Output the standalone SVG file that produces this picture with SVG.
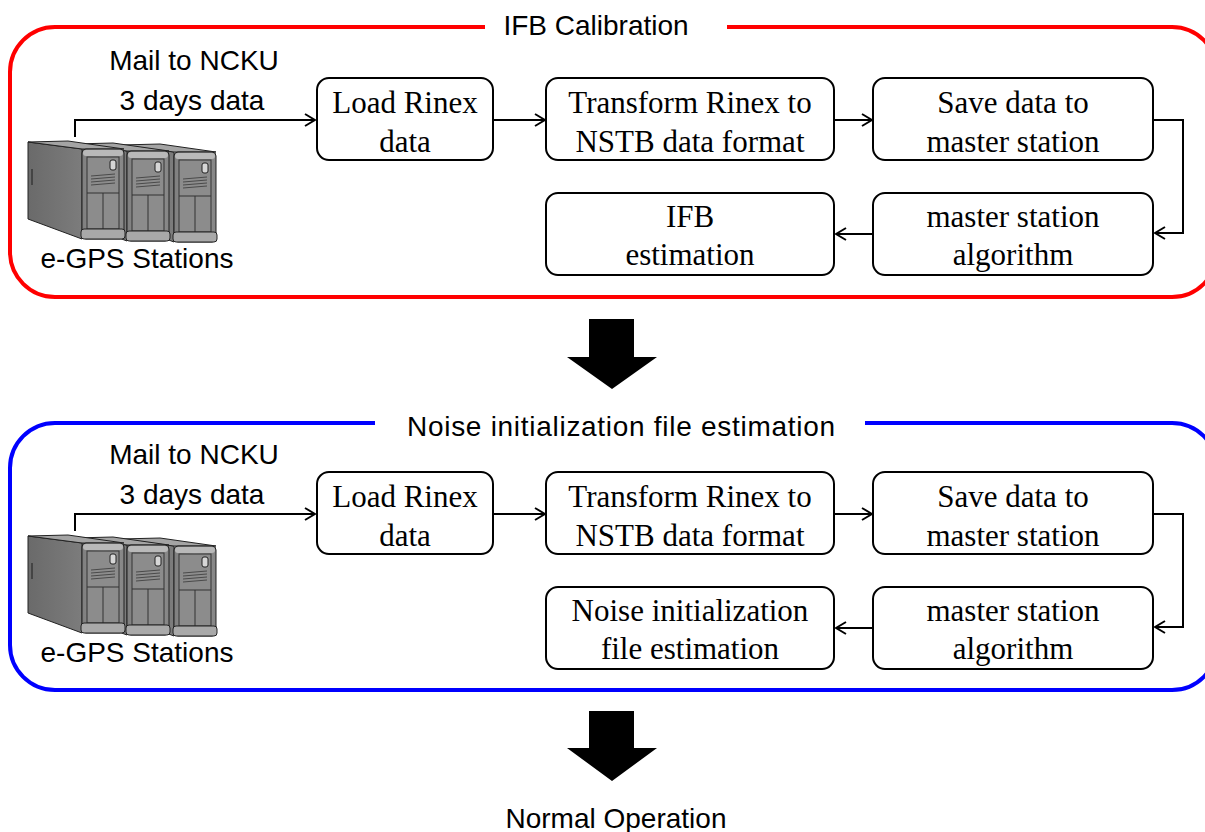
<svg xmlns="http://www.w3.org/2000/svg" xmlns:xlink="http://www.w3.org/1999/xlink" width="1205" height="832" viewBox="0 0 1205 832">
  <style>
    .sans { font-family: "Liberation Sans", Arial, sans-serif; font-size: 28px; fill: #000; }
    .serif { font-family: "Liberation Serif", "Times New Roman", serif; font-size: 31px; fill: #000; text-anchor: middle; }
    .box { fill: #fff; stroke: #000; stroke-width: 2; }
    .conn { fill: none; stroke: #000; stroke-width: 2; }
    .frame { fill: none; stroke-width: 4; }
    .big-arrow { fill: #000; }
    .edge { stroke: #222; stroke-width: 1; }
  </style>
  <defs>
    <marker id="chev" viewBox="0 0 12 14" refX="11" refY="7" markerWidth="12" markerHeight="14" markerUnits="userSpaceOnUse" orient="auto">
      <path d="M1,1 L11,7 L1,13" fill="none" stroke="#000" stroke-width="2"/>
    </marker>
    <linearGradient id="sideShade" x1="0" y1="0" x2="1" y2="0">
      <stop offset="0" stop-color="#6a6a6a"/>
      <stop offset="1" stop-color="#7c7c7c"/>
    </linearGradient>
    <linearGradient id="frontShade" x1="0" y1="0" x2="1" y2="0">
      <stop offset="0" stop-color="#7e7e7e"/>
      <stop offset="0.5" stop-color="#9a9a9a"/>
      <stop offset="1" stop-color="#858585"/>
    </linearGradient>
    <!-- one tower unit; origin is the top-left corner of its front face -->
    <g id="tower">
      <polygon points="-54,-7 0,0 0,90 -54,70" fill="url(#sideShade)" class="edge"/>
      <line x1="-50" y1="20" x2="-50" y2="36" stroke="#444" stroke-width="2"/>
      <polygon points="-54,-7 -14,-8 42,0 0,0" fill="#a4a4a4" class="edge"/>
      <rect x="0" y="0" width="42" height="90" rx="4" fill="url(#frontShade)" class="edge"/>
      <rect x="1" y="1" width="40" height="6" rx="3" fill="#b9b9b9"/>
      <rect x="5" y="8" width="32" height="72" fill="#8c8c8c" stroke="#333" stroke-width="1"/>
      <rect x="28" y="11" width="6" height="10" rx="2" fill="#d6d6d6" stroke="#222" stroke-width="1"/>
      <g stroke="#4a4a4a" stroke-width="1">
        <line x1="9" y1="27" x2="33" y2="25"/>
        <line x1="9" y1="30" x2="33" y2="28"/>
        <line x1="9" y1="33" x2="33" y2="31"/>
        <line x1="9" y1="36" x2="33" y2="34"/>
      </g>
      <line x1="5" y1="44" x2="37" y2="44" stroke="#333" stroke-width="1"/>
      <line x1="21" y1="44" x2="21" y2="80" stroke="#333" stroke-width="1"/>
      <rect x="-1" y="80" width="44" height="10" rx="3" fill="#a9a9a9" class="edge"/>
    </g>
    <g id="servers">
      <use xlink:href="#tower" href="#tower" x="174" y="152"/>
      <use xlink:href="#tower" href="#tower" x="127" y="151"/>
      <use xlink:href="#tower" href="#tower" x="82" y="149"/>
    </g>
  </defs>

  <!-- stage frames -->
  <g id="stage-ifb">
    <path class="frame" stroke="#ff0000" d="M485,27 H55 A45,45 0 0 0 10,72 V252 A45,45 0 0 0 55,297 H1172 A45,45 0 0 0 1217,252 V72 A45,45 0 0 0 1172,27 H727"/>
    <text class="sans" x="596" y="35" text-anchor="middle">IFB Calibration</text>
  </g>
  <g id="stage-noise">
    <path class="frame" stroke="#0000ff" d="M375,423 H55 A45,45 0 0 0 10,468 V645 A45,45 0 0 0 55,690 H1172 A45,45 0 0 0 1217,645 V468 A45,45 0 0 0 1172,423 H865"/>
    <text class="sans" x="621" y="436" text-anchor="middle" textLength="428" lengthAdjust="spacing">Noise initialization file estimation</text>
  </g>

  <!-- connectors -->
  <g id="connectors">
    <g id="connectors-ifb">
      <path class="conn" d="M75,137 V120 H315" marker-end="url(#chev)"/>
      <path class="conn" d="M493,120 H545" marker-end="url(#chev)"/>
      <path class="conn" d="M834,120 H872" marker-end="url(#chev)"/>
      <path class="conn" d="M1153,120 H1183 V233 H1155" marker-end="url(#chev)"/>
      <path class="conn" d="M873,234 H836" marker-end="url(#chev)"/>
    </g>
    <g id="connectors-noise" transform="translate(0,394)">
      <path class="conn" d="M75,137 V120 H315" marker-end="url(#chev)"/>
      <path class="conn" d="M493,120 H545" marker-end="url(#chev)"/>
      <path class="conn" d="M834,120 H872" marker-end="url(#chev)"/>
      <path class="conn" d="M1153,120 H1183 V233 H1155" marker-end="url(#chev)"/>
      <path class="conn" d="M873,234 H836" marker-end="url(#chev)"/>
    </g>
  </g>

  <!-- IFB calibration stage -->
  <g id="egps-1">
    <use xlink:href="#servers" href="#servers"/>
    <text class="sans" x="194" y="70" text-anchor="middle">Mail to NCKU</text>
    <text class="sans" x="192" y="110" text-anchor="middle">3 days data</text>
    <text class="sans" x="137" y="268" text-anchor="middle">e-GPS Stations</text>
  </g>
  <g id="load-1">
    <rect class="box" x="317" y="78" width="176" height="82" rx="12"/>
    <text class="serif" x="405" y="113">Load Rinex</text>
    <text class="serif" x="405" y="152">data</text>
  </g>
  <g id="transform-1">
    <rect class="box" x="546" y="78" width="288" height="82" rx="12"/>
    <text class="serif" x="690" y="113">Transform Rinex to</text>
    <text class="serif" x="690" y="152">NSTB data format</text>
  </g>
  <g id="save-1">
    <rect class="box" x="873" y="78" width="280" height="82" rx="12"/>
    <text class="serif" x="1013" y="113">Save data to</text>
    <text class="serif" x="1013" y="152">master station</text>
  </g>
  <g id="master-1">
    <rect class="box" x="873" y="193" width="280" height="82" rx="12"/>
    <text class="serif" x="1013" y="227">master station</text>
    <text class="serif" x="1013" y="265">algorithm</text>
  </g>
  <g id="ifb-estimation">
    <rect class="box" x="546" y="193" width="288" height="82" rx="12"/>
    <text class="serif" x="690" y="227">IFB</text>
    <text class="serif" x="690" y="265">estimation</text>
  </g>

  <!-- noise initialization stage -->
  <g id="egps-2" transform="translate(0,394)">
    <use xlink:href="#servers" href="#servers"/>
    <text class="sans" x="194" y="70" text-anchor="middle">Mail to NCKU</text>
    <text class="sans" x="192" y="110" text-anchor="middle">3 days data</text>
    <text class="sans" x="137" y="268" text-anchor="middle">e-GPS Stations</text>
  </g>
  <g id="load-2" transform="translate(0,394)">
    <rect class="box" x="317" y="78" width="176" height="82" rx="12"/>
    <text class="serif" x="405" y="113">Load Rinex</text>
    <text class="serif" x="405" y="152">data</text>
  </g>
  <g id="transform-2" transform="translate(0,394)">
    <rect class="box" x="546" y="78" width="288" height="82" rx="12"/>
    <text class="serif" x="690" y="113">Transform Rinex to</text>
    <text class="serif" x="690" y="152">NSTB data format</text>
  </g>
  <g id="save-2" transform="translate(0,394)">
    <rect class="box" x="873" y="78" width="280" height="82" rx="12"/>
    <text class="serif" x="1013" y="113">Save data to</text>
    <text class="serif" x="1013" y="152">master station</text>
  </g>
  <g id="master-2" transform="translate(0,394)">
    <rect class="box" x="873" y="193" width="280" height="82" rx="12"/>
    <text class="serif" x="1013" y="227">master station</text>
    <text class="serif" x="1013" y="265">algorithm</text>
  </g>
  <g id="noise-estimation" transform="translate(0,394)">
    <rect class="box" x="546" y="193" width="288" height="82" rx="12"/>
    <text class="serif" x="690" y="227">Noise initialization</text>
    <text class="serif" x="690" y="265">file estimation</text>
  </g>

  <!-- stage transitions -->
  <g id="next-stage-1">
    <polygon class="big-arrow" points="589,319 634,319 634,357 657,357 612,389 567,357 589,357"/>
  </g>
  <g id="next-stage-2">
    <polygon class="big-arrow" points="589,711 634,711 634,748 657,748 612,781 567,748 589,748"/>
  </g>
  <g id="normal-operation">
    <text class="sans" x="616" y="828" text-anchor="middle" font-size="29">Normal Operation</text>
  </g>
</svg>
